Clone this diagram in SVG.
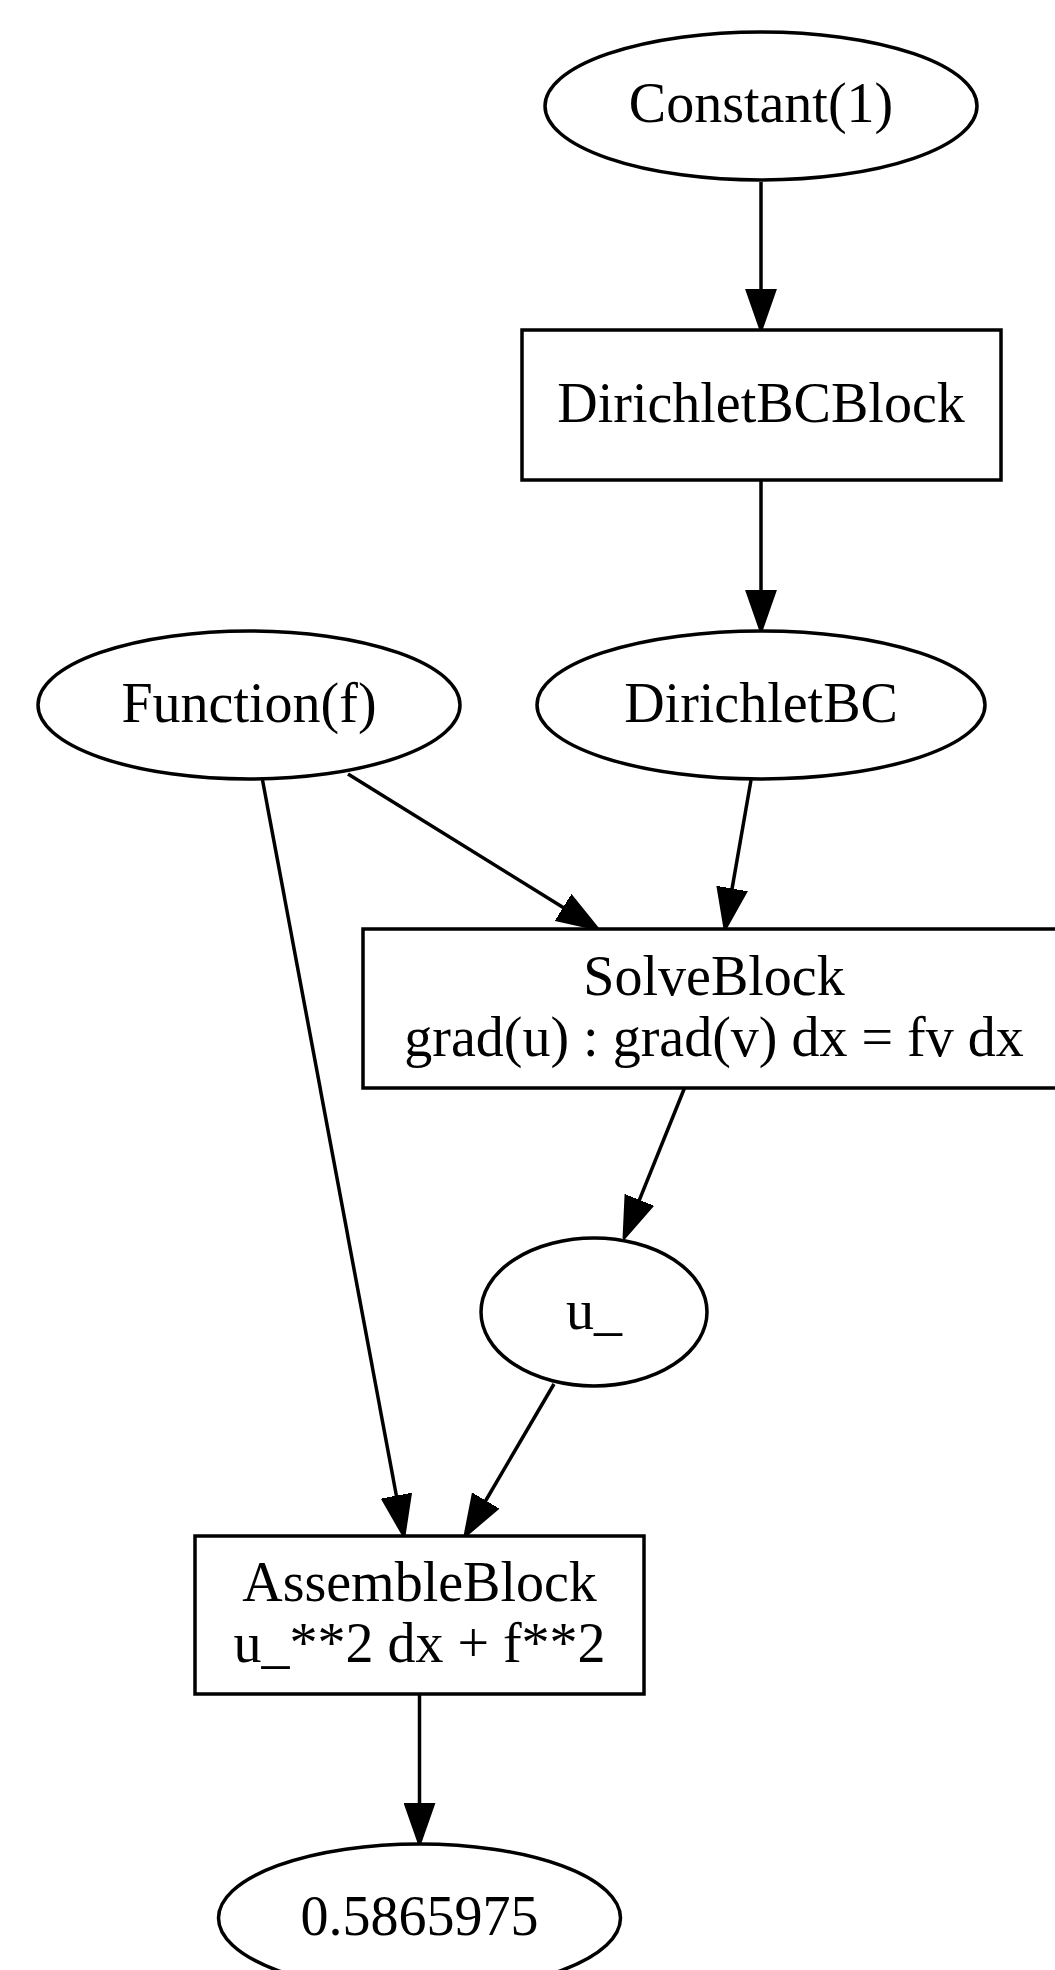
<svg xmlns="http://www.w3.org/2000/svg" width="1055" height="1970" viewBox="0 0 1055 1970">
<style>
.n{fill:#fff;stroke:#000;stroke-width:3.5}
.t{font-family:"Liberation Serif","Times New Roman",serif;font-size:56px;fill:#000;text-anchor:middle}
.e{fill:none;stroke:#000;stroke-width:3.5;marker-end:url(#ah)}
</style>
<defs>
<marker id="ah" markerUnits="userSpaceOnUse" markerWidth="42" markerHeight="32" viewBox="0 0 42 32" refX="1" refY="16" orient="auto">
<path d="M1,2 L41,16 L1,30 Z" fill="#000" stroke="#000" stroke-width="3" stroke-linejoin="miter"/>
</marker>
</defs>
<rect width="1055" height="1970" fill="#fff"/>
<g id="connectors">
<path class="e" d="M761,182 L761,290"/>
<path class="e" d="M761,480 L761,591"/>
<path class="e" d="M348,774 L564,908"/>
<path class="e" d="M751,780 L731.9,889.6"/>
<path class="e" d="M262.5,780 L396.6,1496.7"/>
<path class="e" d="M684.5,1088 L639,1200.9"/>
<path class="e" d="M554,1384 L485.2,1501.5"/>
<path class="e" d="M419.5,1694 L419.5,1804"/>
</g>
<g id="constant">
<ellipse class="n" cx="761" cy="106" rx="216" ry="74"/>
<text class="t" x="761" y="122">Constant(1)</text>
</g>
<g id="dirichletbcblock">
<rect class="n" x="522" y="330" width="479" height="150"/>
<text class="t" x="761" y="422">DirichletBCBlock</text>
</g>
<g id="function">
<ellipse class="n" cx="249" cy="705" rx="211" ry="74"/>
<text class="t" x="249" y="722">Function(f)</text>
</g>
<g id="dirichletbc">
<ellipse class="n" cx="761" cy="705" rx="224" ry="74"/>
<text class="t" x="761" y="722">DirichletBC</text>
</g>
<g id="solveblock">
<rect class="n" x="363" y="929" width="702" height="159"/>
<text class="t" x="714" y="995">SolveBlock</text>
<text class="t" x="714" y="1056">grad(u) : grad(v) dx = fv dx</text>
</g>
<g id="u">
<ellipse class="n" cx="594" cy="1312" rx="113" ry="74"/>
<text class="t" x="594" y="1329">u_</text>
</g>
<g id="assembleblock">
<rect class="n" x="195" y="1536" width="449" height="158"/>
<text class="t" x="419.5" y="1601">AssembleBlock</text>
<text class="t" x="419.5" y="1662">u_**2 dx + f**2</text>
</g>
<g id="result">
<ellipse class="n" cx="419.5" cy="1918" rx="201" ry="74"/>
<text class="t" x="419.5" y="1935">0.5865975</text>
</g>
</svg>
